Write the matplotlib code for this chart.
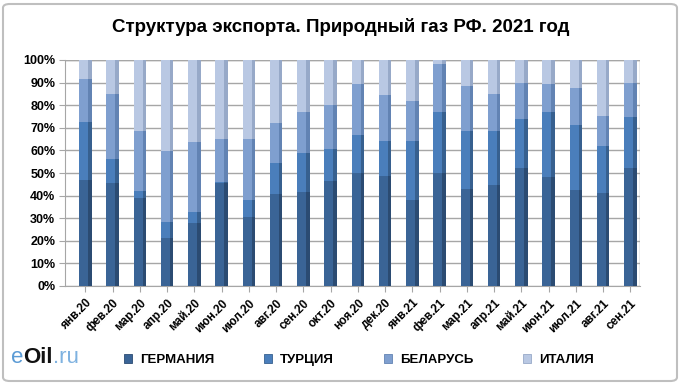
import matplotlib
matplotlib.use('Agg')
import matplotlib.pyplot as plt
import numpy as np
from matplotlib.patches import FancyBboxPatch, Patch
from matplotlib.ticker import FixedLocator

# Monthly export share (%) by destination
MONTHS = ['янв.20', 'фев.20', 'мар.20', 'апр.20', 'май.20', 'июн.20', 'июл.20',
          'авг.20', 'сен.20', 'окт.20', 'ноя.20', 'дек.20', 'янв.21', 'фев.21',
          'мар.21', 'апр.21', 'май.21', 'июн.21', 'июл.21', 'авг.21', 'сен.21']
GERMANY = [46.7, 45.7, 39.0, 21.4, 27.8, 45.4, 30.5, 40.8, 41.7, 46.4, 50.1,
           48.7, 37.9, 50.1, 43.0, 44.6, 52.4, 48.4, 42.3, 41.2, 52.4]
TURKEY = [25.8, 10.7, 3.0, 6.9, 4.8, 0.5, 7.7, 13.5, 17.3, 14.2, 16.9,
          15.6, 26.1, 26.8, 25.8, 23.9, 21.6, 28.5, 29.1, 20.8, 22.3]
BELARUS = [19.3, 28.4, 26.5, 31.5, 30.9, 19.1, 26.8, 17.9, 18.2, 19.6, 22.3,
           20.1, 17.8, 21.3, 19.6, 16.6, 16.0, 12.7, 16.0, 13.1, 15.3]
ITALY = [8.2, 15.2, 31.5, 40.2, 36.5, 35.0, 35.0, 27.8, 22.8, 19.8, 10.7,
         15.6, 18.2, 1.8, 11.6, 14.9, 10.0, 10.4, 12.6, 24.9, 10.0]
SERIES_NAMES = ['ГЕРМАНИЯ', 'ТУРЦИЯ', 'БЕЛАРУСЬ', 'ИТАЛИЯ']

COLORS = ['#3a6496', '#4a7ebb', '#7f9fcf', '#b9c8e3']
SHADES = ['#2b4b72', '#37608f', '#6283b3', '#97a9c8']
GRID = '#a6a6a6'

plt.rcParams['font.family'] = ['Liberation Sans', 'DejaVu Sans']

W, H = 681, 384
fig = plt.figure(figsize=(W / 100, H / 100), dpi=100, facecolor='white')
fig.patches.append(FancyBboxPatch((3 / W, 3 / H), 1 - 7 / W, 1 - 7 / H,
                                  boxstyle='round,pad=0,rounding_size=0.01',
                                  transform=fig.transFigure, facecolor='none',
                                  edgecolor='#bfbfbf', linewidth=1.5))

ax = fig.add_axes([65 / W, (H - 286) / H, (640 - 65) / W, (286 - 60) / H])
ax.set_facecolor('none')

x = np.arange(len(MONTHS))
data = [GERMANY, TURKEY, BELARUS, ITALY]
bottom = np.zeros(len(MONTHS))
width = 0.46
for vals, col, shade in zip(data, COLORS, SHADES):
    vals = np.array(vals)
    ax.bar(x, vals, width, bottom=bottom, color=col, edgecolor='none', zorder=3)
    # darker right strip for a cylinder-like look
    ax.bar(x + width * 0.36, vals, width * 0.28, bottom=bottom, color=shade,
           edgecolor='none', zorder=3)
    bottom += vals

ax.set_xlim(-0.75, 20.35)
ax.set_ylim(0, 100)
ax.yaxis.set_major_locator(FixedLocator(np.arange(0, 101, 10)))
ax.set_yticklabels([f'{v}%' for v in range(0, 101, 10)], fontsize=9, fontweight='bold')
ax.grid(axis='y', color=GRID, linewidth=1.0, zorder=0)
ax.set_xticks(x)
ax.set_xticklabels(MONTHS, rotation=45, ha='right', rotation_mode='anchor',
                   fontsize=8.5, fontweight='bold')
ax.tick_params(axis='x', length=4, color=GRID, pad=4)
ax.tick_params(axis='y', length=4, color=GRID, pad=3)
for side in ('top', 'right'):
    ax.spines[side].set_visible(False)
for side in ('left', 'bottom'):
    ax.spines[side].set_color(GRID)
ax.axvline(ax.get_xlim()[1], color=GRID, linewidth=1.0, zorder=0)
ax.axhline(100, color=GRID, linewidth=1.0, zorder=0)

fig.text(0.5, 1 - 27 / H, 'Структура экспорта. Природный газ РФ. 2021 год',
         ha='center', va='center', fontsize=13.5, fontweight='bold')

handles = [Patch(facecolor=c, edgecolor=s, linewidth=0.6) for c, s in zip(COLORS, SHADES)]
fig.legend(handles, SERIES_NAMES, loc='center left', bbox_to_anchor=(112 / W, 1 - 360 / H),
           ncol=4, frameon=False, handlelength=0.6, handleheight=0.6,
           handletextpad=0.6, columnspacing=3.8, prop={'weight': 'bold', 'size': 9.5})

# site logo
t1 = fig.text(11 / W, 1 - 363 / H, 'e', color='#5b9bd5', fontsize=16, va='baseline')
t2 = fig.text(0, 0, 'Oil', color='#111111', fontsize=16, fontweight='bold', va='baseline')
t3 = fig.text(0, 0, '.ru', color='#7fb2e0', fontsize=16, va='baseline')
fig.canvas.draw()
r = fig.canvas.get_renderer()
x1 = t1.get_window_extent(r).x1 / W
t2.set_position((x1, 1 - 363 / H))
fig.canvas.draw()
x2 = t2.get_window_extent(r).x1 / W
t3.set_position((x2, 1 - 363 / H))

fig.savefig('out.png', dpi=100, facecolor='white')
